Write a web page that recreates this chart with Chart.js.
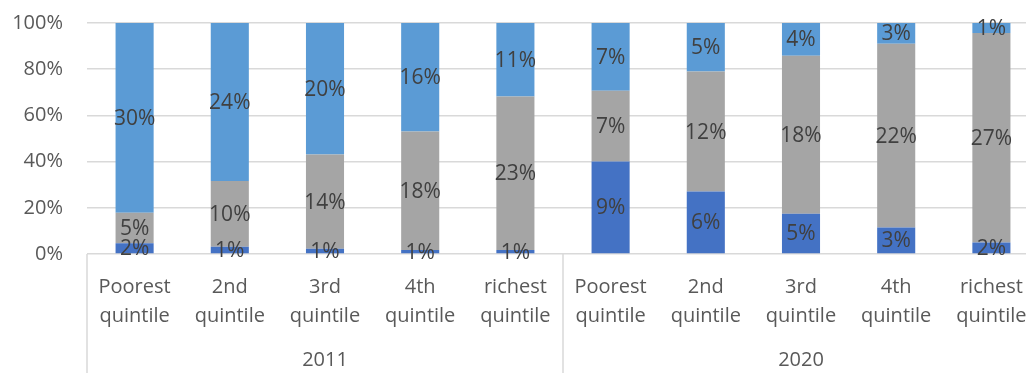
<!DOCTYPE html>
<html>
<head>
<meta charset="utf-8">
<script src="https://cdn.jsdelivr.net/npm/chart.js@4"></script>
<style>
  html, body { margin: 0; padding: 0; background: #fff; overflow: hidden; }
  #wrap { width: 1040px; height: 373px; }
</style>
</head>
<body>
<div id="wrap"><canvas id="quintile-chart"></canvas></div>
<script>
// categories, two year groups of five quintiles
const years = ['2011', '2020'];
const quintiles = [['Poorest', 'quintile'], ['2nd', 'quintile'], ['3rd', 'quintile'], ['4th', 'quintile'], ['richest', 'quintile']];

// shares per segment, bottom to top (labels show them rounded)
const seriesBottom = [1.7, 1.1, 0.8, 0.6, 0.6, 9.3, 6.3, 4.7, 3.2, 1.5];
const seriesMiddle = [4.9, 10.0, 14.2, 17.9, 23.0, 7.1, 12.1, 18.4, 22.3, 27.2];
const seriesTop = [30.3, 24.0, 19.8, 16.4, 11.0, 6.8, 4.9, 3.8, 2.5, 1.3];

const yTicks = [0, 20, 40, 60, 80, 100];

const labels = [];
years.forEach(() => quintiles.forEach(q => labels.push(q)));

const totals = seriesBottom.map((v, i) => v + seriesMiddle[i] + seriesTop[i]);
const toPct = arr => arr.map((v, i) => v / totals[i] * 100);

const FONT = "'Open Sans', 'Noto Sans', sans-serif";

function makeSet(raw, color) {
  return {
    data: toPct(raw),
    raw: raw,
    backgroundColor: color,
    borderWidth: 0,
    categoryPercentage: 1,
    barPercentage: 0.4
  };
}

// value labels centred in each segment
const segmentLabels = {
  id: 'segmentLabels',
  afterDatasetsDraw(chart) {
    const ctx = chart.ctx;
    ctx.save();
    ctx.font = '21px ' + FONT;
    ctx.fillStyle = '#404040';
    ctx.textAlign = 'center';
    ctx.textBaseline = 'middle';
    chart.data.datasets.forEach((ds, di) => {
      chart.getDatasetMeta(di).data.forEach((bar, i) => {
        const y = (bar.y + bar.base) / 2;
        ctx.fillText(Math.round(ds.raw[i]) + '%', bar.x, y + 1);
      });
    });
    ctx.restore();
  }
};

// year group labels and separators under the axis
const groupAxis = {
  id: 'groupAxis',
  afterDraw(chart) {
    const ctx = chart.ctx;
    const x = chart.scales.x;
    const per = quintiles.length;
    const bottom = chart.height;
    const edges = [x.left];
    years.forEach((yr, g) => {
      const last = (g + 1) * per - 1;
      const right = last + 1 < labels.length
        ? (x.getPixelForValue(last) + x.getPixelForValue(last + 1)) / 2
        : x.right;
      edges.push(right);
    });
    ctx.save();
    ctx.strokeStyle = '#d9d9d9';
    ctx.lineWidth = 1.5;
    edges.forEach(e => {
      ctx.beginPath();
      ctx.moveTo(e, x.top);
      ctx.lineTo(e, bottom);
      ctx.stroke();
    });
    ctx.font = '20px ' + FONT;
    ctx.fillStyle = '#595959';
    ctx.textAlign = 'center';
    ctx.textBaseline = 'middle';
    years.forEach((yr, g) => {
      ctx.fillText(yr, (edges[g] + edges[g + 1]) / 2, 360);
    });
    ctx.restore();
  }
};

new Chart(document.getElementById('quintile-chart'), {
  type: 'bar',
  data: {
    labels: labels,
    datasets: [
      makeSet(seriesBottom, '#4472c4'),
      makeSet(seriesMiddle, '#a5a5a5'),
      makeSet(seriesTop, '#5b9bd5')
    ]
  },
  options: {
    responsive: true,
    maintainAspectRatio: false,
    animation: false,
    layout: { padding: { top: 23, left: 0, right: 1, bottom: 0 } },
    plugins: {
      legend: { display: false },
      tooltip: { enabled: false }
    },
    scales: {
      x: {
        stacked: true,
        grid: { display: false },
        border: { display: false },
        ticks: {
          color: '#595959',
          font: { family: FONT, size: 20, lineHeight: '29px' },
          padding: 11,
          maxRotation: 0,
          autoSkip: false
        },
        afterFit(scale) {
          scale.height = 119;
          scale.paddingLeft = 0;
          scale.paddingRight = 0;
        }
      },
      y: {
        stacked: true,
        min: 0,
        max: 100,
        afterBuildTicks(scale) { scale.ticks = yTicks.map(v => ({ value: v })); },
        grid: { color: '#d9d9d9', lineWidth: 1.5, drawTicks: false },
        border: { display: false },
        ticks: {
          color: '#595959',
          font: { family: FONT, size: 20 },
          padding: 24,
          callback: v => v + '%'
        },
        afterFit(scale) {
          scale.width = 87;
          scale.paddingTop = 0;
          scale.paddingBottom = 0;
        }
      }
    }
  },
  plugins: [segmentLabels, groupAxis]
});
</script>
</body>
</html>
